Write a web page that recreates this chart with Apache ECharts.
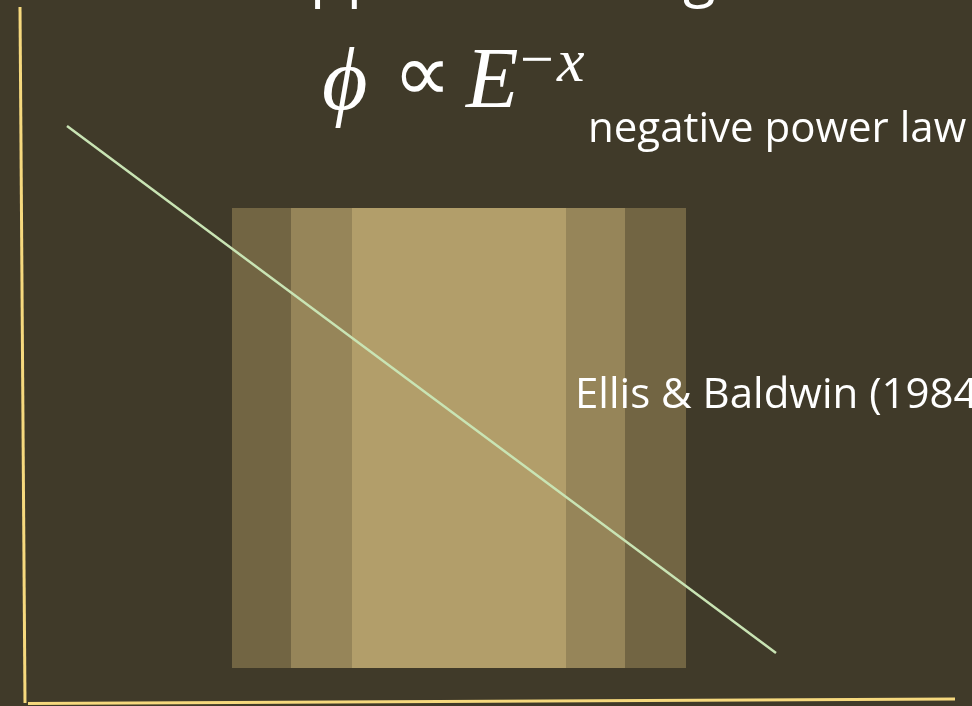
<!DOCTYPE html>
<html>
<head>
<meta charset="utf-8">
<script src="https://cdn.jsdelivr.net/npm/echarts@6/dist/echarts.min.js"></script>
<style>
    html, body { margin: 0; padding: 0; background: #403a29; }
    #chart { width: 972px; height: 706px; }
</style>
</head>
<body>
<div id="chart"></div>
<script>
    // plot units: x to the right, y upward, one unit per pixel of the slide
    const bandEdges = [232, 291, 352, 566, 625, 686];
    const bandLevels = [0, 1, 2, 1, 0];
    const bandBottom = 38;
    const bandTop = 498;

    const powerLawX = [67, 776];
    const powerLawY = [580, 53];

    const yAxisLineX = [20, 25];
    const yAxisLineY = [699, 3];
    const xAxisLineX = [28, 955];
    const xAxisLineY = [2.5, 7];

    const titleText = 'Doppler boosting';
    const lawText = 'negative power law';
    const refText = 'Ellis & Baldwin (1984)';

    const bandColors = ['#726543', '#968559', '#b29e6a'];
    const axisColor = '#f6d97e';
    const lineColor = '#c9e4b4';

    const toPoints = (xs, ys) => xs.map((x, i) => [x, ys[i]]);

    const bandData = bandLevels.map((lvl, i) => [bandEdges[i], bandEdges[i + 1], bandBottom, bandTop, lvl]);

    const myChart = echarts.init(document.getElementById('chart'), null, {renderer: 'canvas'});

    const serif = '"Liberation Serif", "DejaVu Serif", serif';
    const sans = '"Open Sans", "Noto Sans", sans-serif';

    const option = {
        backgroundColor: '#403a29',
        animation: false,
        grid: {left: 0, right: 0, top: 0, bottom: 0},
        xAxis: {type: 'value', min: 0, max: 972, show: false},
        yAxis: {type: 'value', min: 0, max: 706, show: false},
        series: [
            {
                type: 'custom',
                data: bandData,
                z: 1,
                renderItem: function (params, api) {
                    const p0 = api.coord([api.value(0), api.value(3)]);
                    const p1 = api.coord([api.value(1), api.value(2)]);
                    return {
                        type: 'rect',
                        shape: {x: p0[0], y: p0[1], width: p1[0] - p0[0], height: p1[1] - p0[1]},
                        style: {fill: bandColors[api.value(4)]}
                    };
                }
            },
            {
                type: 'line',
                data: toPoints(powerLawX, powerLawY),
                symbol: 'none',
                z: 3,
                lineStyle: {color: lineColor, width: 2.5}
            },
            {
                type: 'line',
                data: toPoints(yAxisLineX, yAxisLineY),
                symbol: 'none',
                z: 3,
                lineStyle: {color: axisColor, width: 3}
            },
            {
                type: 'line',
                data: toPoints(xAxisLineX, xAxisLineY),
                symbol: 'none',
                z: 3,
                lineStyle: {color: axisColor, width: 3}
            }
        ],
        graphic: [
            {type: 'text', x: 473, y: -22, z: 10, style: {text: titleText, fill: '#fff', font: '60px ' + sans, align: 'center', verticalAlign: 'middle'}},
            {type: 'text', x: 322, y: 86, z: 10, style: {text: '\u03d5', fill: '#fff', font: 'italic 88px ' + serif, align: 'left', verticalAlign: 'middle'}},
            {type: 'text', x: 393, y: 80, z: 10, style: {text: '\u221d', fill: '#fff', font: '82px "DejaVu Sans", sans-serif', align: 'left', verticalAlign: 'middle'}},
            {type: 'text', x: 466, y: 84, z: 10, style: {text: 'E', fill: '#fff', font: 'italic 86px ' + serif, align: 'left', verticalAlign: 'middle'}},
            {type: 'text', x: 520, y: 63, z: 10, style: {text: '\u2212', fill: '#fff', font: '60px ' + serif, align: 'left', verticalAlign: 'middle'}},
            {type: 'text', x: 557, y: 65, z: 10, style: {text: 'x', fill: '#fff', font: 'italic 62px ' + serif, align: 'left', verticalAlign: 'middle'}},
            {type: 'text', x: 588, y: 130, z: 10, style: {text: lawText, fill: '#fff', font: '42px ' + sans, align: 'left', verticalAlign: 'middle'}},
            {type: 'text', x: 575, y: 396, z: 10, style: {text: refText, fill: '#fff', font: '42px ' + sans, align: 'left', verticalAlign: 'middle'}}
        ]
    };
    myChart.setOption(option);
</script>
</body>
</html>
